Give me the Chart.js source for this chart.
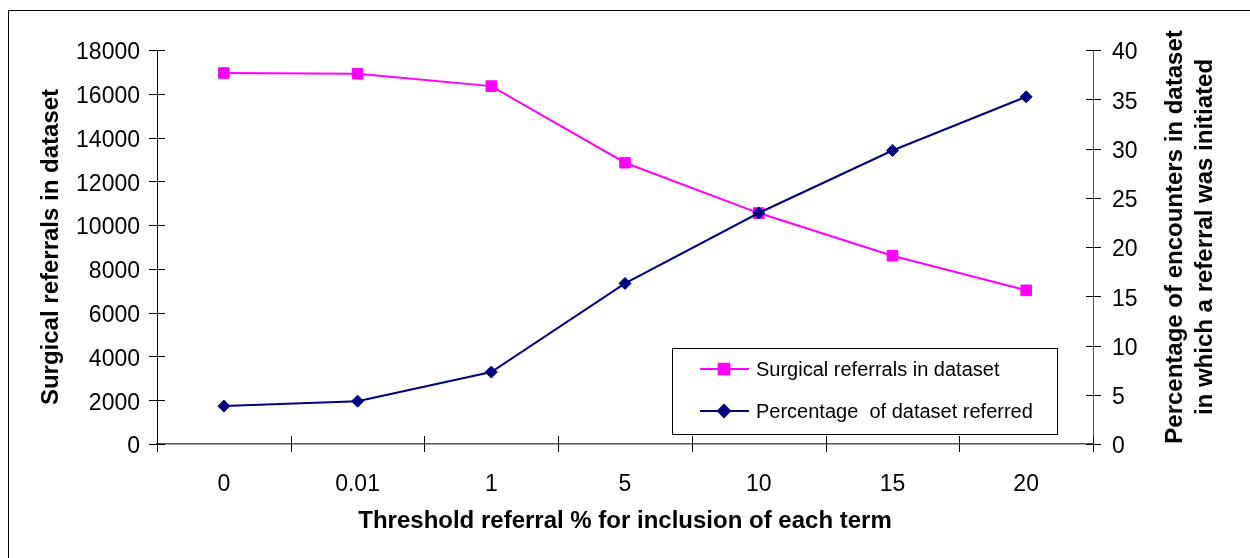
<!DOCTYPE html>
<html>
<head>
<meta charset="utf-8">
<script src="https://cdn.jsdelivr.net/npm/chart.js@4/dist/chart.umd.min.js"></script>
<style>
html, body { margin: 0; padding: 0; background: #fff; }
#wrap { width: 1250px; height: 558px; }
</style>
</head>
<body>
<div id="wrap"><canvas id="chart" width="1250" height="558"></canvas></div>
<script>
// threshold categories on the x axis
var thresholds = ['0', '0.01', '1', '5', '10', '15', '20'];
// left axis series (count of referrals)
var surgicalReferrals = [16950, 16920, 16350, 12850, 10550, 8600, 7020];
// right axis series (percent of encounters)
var percentReferred = [3.85, 4.35, 7.3, 16.3, 23.45, 29.8, 35.25];
// axis ranges
var leftMax = 18000, leftStep = 2000;
var rightMax = 40, rightStep = 5;

var FONT = '"Liberation Sans", Arial, sans-serif';

// tick marks that cross the axis lines
var crossTicks = {
    id: 'crossTicks',
    beforeDatasetsDraw: function(chart) {
        var ctx = chart.ctx;
        var x = chart.scales.x, yl = chart.scales.yLeft, yr = chart.scales.yRight;
        ctx.save();
        ctx.lineWidth = 1;
        ctx.strokeStyle = '#000';
        yl.ticks.forEach(function(t) {
            var py = Math.round(yl.getPixelForValue(t.value)) + 0.5;
            ctx.beginPath(); ctx.moveTo(yl.right - 8, py); ctx.lineTo(yl.right + 8, py); ctx.stroke();
        });
        yr.ticks.forEach(function(t) {
            var py = Math.round(yr.getPixelForValue(t.value)) + 0.5;
            ctx.beginPath(); ctx.moveTo(yr.left - 7, py); ctx.lineTo(yr.left + 8, py); ctx.stroke();
        });
        for (var i = 0; i <= thresholds.length; i++) {
            var px;
            if (i === 0) px = x.left;
            else if (i === thresholds.length) px = x.right;
            else px = (x.getPixelForValue(i - 1) + x.getPixelForValue(i)) / 2;
            px = Math.round(px) + 0.5;
            ctx.beginPath(); ctx.moveTo(px, x.top - 8); ctx.lineTo(px, x.top + 8); ctx.stroke();
        }
        ctx.restore();
    }
};

// legend box inside the plot, right axis title, outer frame
var extras = {
    id: 'extras',
    afterDraw: function(chart) {
        var ctx = chart.ctx;
        ctx.save();

        // legend
        ctx.fillStyle = '#fff';
        ctx.fillRect(672, 348, 385, 86);
        ctx.strokeStyle = '#000';
        ctx.lineWidth = 1;
        ctx.strokeRect(672.5, 348.5, 385, 86);
        var rows = [369, 411];
        chart.data.datasets.forEach(function(ds, i) {
            var y = rows[i];
            ctx.strokeStyle = ds.borderColor;
            ctx.lineWidth = 2;
            ctx.beginPath(); ctx.moveTo(700, y); ctx.lineTo(749, y); ctx.stroke();
            ctx.fillStyle = ds.pointBackgroundColor;
            ctx.strokeStyle = ds.pointBorderColor;
            Chart.helpers.drawPoint(ctx, {pointStyle: ds.pointStyle, radius: ds.pointRadius, rotation: 0, borderWidth: 1}, 724, y);
            ctx.fillStyle = '#000';
            ctx.font = '20px ' + FONT;
            ctx.textAlign = 'left';
            ctx.textBaseline = 'middle';
            ctx.fillText(ds.label, 756, y + 1);
        });

        // right axis title, reads bottom to top
        ctx.fillStyle = '#000';
        ctx.font = 'bold 24px ' + FONT;
        ctx.textAlign = 'center';
        ctx.textBaseline = 'middle';
        var midY = (chart.chartArea.top + chart.chartArea.bottom) / 2;
        ctx.translate(1175, midY - 10);
        ctx.rotate(-Math.PI / 2);
        ctx.fillText('Percentage of encounters in dataset', 0, 0);
        ctx.fillText('in which a referral was initiated', 0, 30);
        ctx.restore();

        // frame round the whole figure
        ctx.save();
        ctx.strokeStyle = '#000';
        ctx.lineWidth = 1;
        ctx.strokeRect(8.5, 10.5, 1300, 600);
        ctx.restore();
    }
};

function plainNumber(value) {
    return String(value);
}

var ctx = document.getElementById('chart').getContext('2d');
var chart = new Chart(ctx, {
    type: 'line',
    data: {
        labels: thresholds,
        datasets: [{
            label: 'Surgical referrals in dataset',
            data: surgicalReferrals,
            yAxisID: 'yLeft',
            borderColor: '#ff00ff',
            borderWidth: 2,
            pointStyle: 'rect',
            pointRadius: 7.5,
            pointBackgroundColor: '#ff00ff',
            pointBorderColor: '#ff00ff',
            pointBorderWidth: 1,
            tension: 0,
            order: 1
        }, {
            label: 'Percentage  of dataset referred',
            data: percentReferred,
            yAxisID: 'yRight',
            borderColor: '#000080',
            borderWidth: 2,
            pointStyle: 'rectRot',
            pointRadius: 6,
            pointBackgroundColor: '#000080',
            pointBorderColor: '#000080',
            pointBorderWidth: 1,
            tension: 0,
            order: 0
        }]
    },
    options: {
        responsive: false,
        animation: false,
        devicePixelRatio: 1,
        layout: { padding: { top: 50, left: 0, right: 0, bottom: 0 } },
        plugins: {
            legend: { display: false },
            tooltip: { enabled: false }
        },
        scales: {
            x: {
                type: 'category',
                offset: true,
                grid: { display: false, drawTicks: false },
                border: { display: true, color: '#555', width: 1.5 },
                ticks: { color: '#000', font: { family: FONT, size: 23 }, padding: 27, maxRotation: 0 },
                title: {
                    display: true,
                    text: 'Threshold referral % for inclusion of each term',
                    color: '#000',
                    font: { family: FONT, size: 24, weight: 'bold' },
                    padding: { top: 0, bottom: 22 }
                },
                afterFit: function(s) { s.height = 114; }
            },
            yLeft: {
                type: 'linear',
                position: 'left',
                min: 0,
                max: leftMax,
                grid: { display: false, drawTicks: false },
                border: { display: true, color: '#000', width: 1 },
                ticks: { stepSize: leftStep, callback: plainNumber, color: '#000', font: { family: FONT, size: 23 }, padding: 17, labelOffset: 3 },
                title: {
                    display: true,
                    text: 'Surgical referrals in dataset',
                    color: '#000',
                    font: { family: FONT, size: 24, weight: 'bold' },
                    padding: { top: 37, bottom: 0 }
                },
                afterFit: function(s) { s.width = 157; }
            },
            yRight: {
                type: 'linear',
                position: 'right',
                min: 0,
                max: rightMax,
                grid: { display: false, drawTicks: false },
                border: { display: true, color: '#555', width: 1 },
                ticks: { stepSize: rightStep, callback: plainNumber, color: '#000', font: { family: FONT, size: 23 }, padding: 19, labelOffset: 3 },
                afterFit: function(s) { s.width = 157; }
            }
        }
    },
    plugins: [crossTicks, extras]
});
</script>
</body>
</html>
